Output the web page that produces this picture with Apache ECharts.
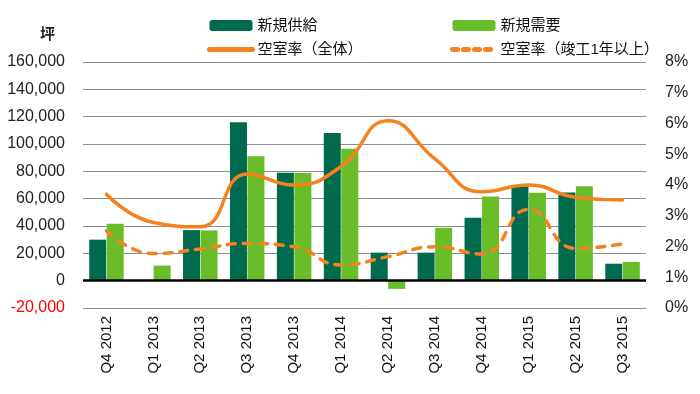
<!DOCTYPE html>
<html><head><meta charset="utf-8">
<script src="https://cdn.jsdelivr.net/npm/echarts@6/dist/echarts.min.js"></script>
<style>html,body{margin:0;padding:0;background:#fff}#c{width:700px;height:394px}</style>
</head><body><div id="c"></div>
<script>
const categories = ['Q4 2012','Q1 2013','Q2 2013','Q3 2013','Q4 2013','Q1 2014','Q2 2014','Q3 2014','Q4 2014','Q1 2015','Q2 2015','Q3 2015'];
const supply = [30000, 0, 37000, 116000, 79000, 108000, 20500, 20500, 46000, 69000, 64500, 12400];
const demand = [41700, 11000, 36800, 91000, 78700, 96500, -6000, 38800, 61500, 64300, 69000, 13700];
const vacancyAll = [3.70, 2.78, 2.64, 4.36, 4.00, 4.60, 6.09, 4.85, 3.78, 4.00, 3.60, 3.51];
const vacancyOld = [2.51, 1.77, 1.92, 2.10, 1.99, 1.40, 1.67, 1.99, 1.76, 3.21, 1.94, 2.08];
const leftTicks = {min: -20000, max: 160000, interval: 20000};
const rightTicks = {min: 0, max: 8, interval: 1};

const FONT = '"Liberation Sans", Arial, "Noto Sans CJK JP", sans-serif';
const ORANGE = '#f5821f';
const chart = echarts.init(document.getElementById('c'));
const legendText = {fontSize: 15, color: '#111', fontFamily: FONT};
chart.setOption({
  animation: false,
  textStyle: {fontFamily: FONT},
  title: {text: '坪', left: 40, top: 27, padding: 0, textStyle: {fontSize: 15, fontWeight: 'bold', color: '#222', fontFamily: FONT}},
  legend: [
    {data: ['新規供給', {name: '空室率（全体）', itemStyle: {opacity: 0}, lineStyle: {width: 5, cap: 'round'}}],
     orient: 'vertical', left: 207, top: 18, padding: 0,
     itemWidth: 43, itemHeight: 11, itemGap: 9, textStyle: legendText},
    {data: ['新規需要', {name: '空室率（竣工1年以上）', itemStyle: {opacity: 0}, lineStyle: {width: 5, type: [5, 6], cap: 'round'}}],
     orient: 'vertical', left: 450, top: 18, padding: 0,
     itemWidth: 43, itemHeight: 11, itemGap: 9, textStyle: legendText}
  ],
  grid: {left: 83, right: 54, top: 62, bottom: 86, containLabel: false},
  xAxis: {type: 'category', data: categories,
    axisLine: {show: false}, axisTick: {show: false},
    axisLabel: {rotate: 90, fontSize: 15, color: '#111', margin: 8, fontFamily: FONT}},
  yAxis: [
    {type: 'value', min: leftTicks.min, max: leftTicks.max, interval: leftTicks.interval,
     axisLine: {show: false}, axisTick: {show: false},
     splitLine: {lineStyle: {color: '#8a8f94', width: 1}},
     axisLabel: {fontSize: 16, margin: 18, fontFamily: FONT,
       color: v => v < 0 ? '#ff0000' : '#222',
       formatter: v => v.toLocaleString('en-US')}},
    {type: 'value', min: rightTicks.min, max: rightTicks.max, interval: rightTicks.interval, position: 'right',
     axisLine: {show: false}, axisTick: {show: false}, splitLine: {show: false},
     axisLabel: {fontSize: 16, margin: 19, color: '#222', fontFamily: FONT, formatter: '{value}%'}}
  ],
  series: [
    {name: '新規供給', type: 'bar', data: supply, barWidth: 17, barGap: '3%', itemStyle: {color: '#006a4e'},
     markLine: {silent: true, symbol: 'none', label: {show: false}, lineStyle: {color: '#000', width: 2.5, type: 'solid'}, data: [{yAxis: 0}]}},
    {name: '新規需要', type: 'bar', data: demand, barWidth: 17, itemStyle: {color: '#69bd28'}},
    {name: '空室率（全体）', type: 'line', yAxisIndex: 1, data: vacancyAll, smooth: 0.5, showSymbol: false, symbol: 'none',
     lineStyle: {color: ORANGE, width: 3.5, cap: 'round'}, itemStyle: {color: ORANGE}},
    {name: '空室率（竣工1年以上）', type: 'line', yAxisIndex: 1, data: vacancyOld, smooth: 0.5, showSymbol: false, symbol: 'none',
     lineStyle: {color: ORANGE, width: 3.5, type: [8, 8], cap: 'round'}, itemStyle: {color: ORANGE}}
  ]
});
</script></body></html>
